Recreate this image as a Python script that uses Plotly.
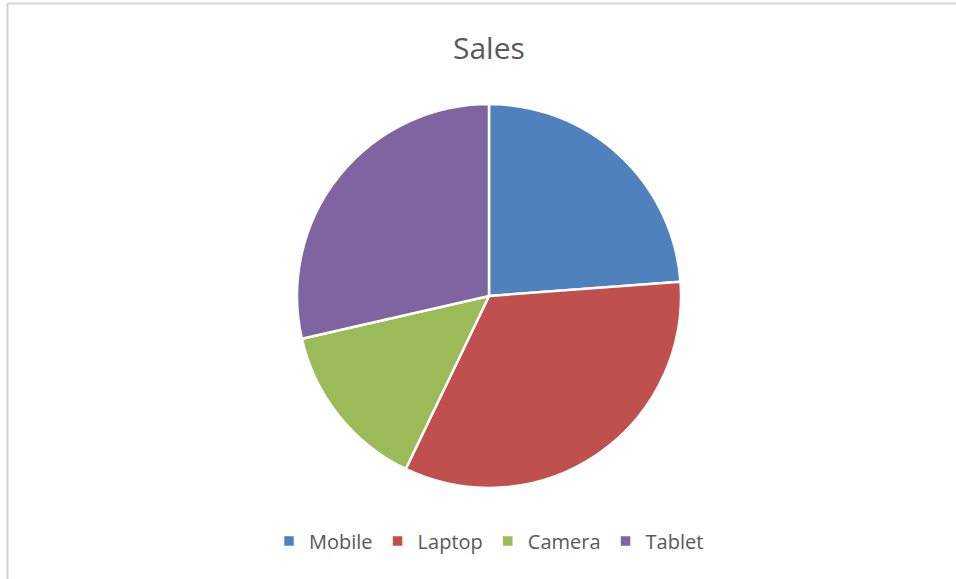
import plotly.graph_objects as go

categories = ["Mobile", "Laptop", "Camera", "Tablet"]
sales = [2500, 3500, 1500, 3000]
colors = ["#4F81BD", "#C0504D", "#9BBB59", "#8064A2"]
title_text = "Sales"

W, H = 956, 579
cx, cy, r = 489, 296, 192

fig = go.Figure(go.Pie(
    labels=categories,
    values=sales,
    sort=False,
    direction="clockwise",
    rotation=0,
    textinfo="none",
    hoverinfo="label+value+percent",
    marker=dict(colors=colors, line=dict(color="white", width=2.5)),
    domain=dict(x=[(cx - r) / W, (cx + r) / W], y=[1 - (cy + r) / H, 1 - (cy - r) / H]),
))

fig.update_layout(
    width=W, height=H,
    margin=dict(l=0, r=0, t=0, b=0),
    paper_bgcolor="white",
    font=dict(family="Open Sans, Noto Sans, sans-serif", color="#595959"),
    showlegend=True,
    legend=dict(orientation="h", x=cx / W, xanchor="center", y=1 - 541 / H, yanchor="middle",
                font=dict(size=20, color="#595959"), itemwidth=30, traceorder="normal"),
    annotations=[dict(text=title_text, x=cx / W, y=1 - 48 / H, xref="paper", yref="paper",
                      xanchor="center", yanchor="middle", showarrow=False,
                      font=dict(size=30, color="#595959"))],
    shapes=[
        dict(type="line", xref="paper", yref="paper", x0=7.5 / W, x1=1, y0=1 - 3.5 / H, y1=1 - 3.5 / H,
             line=dict(color="#d4d4d4", width=2)),
        dict(type="line", xref="paper", yref="paper", x0=7.5 / W, x1=7.5 / W, y0=0, y1=1 - 3.5 / H,
             line=dict(color="#d4d4d4", width=2)),
    ],
)

fig.write_html("out.html", config={"displayModeBar": False},
               post_script="document.body.style.margin='0px';")
